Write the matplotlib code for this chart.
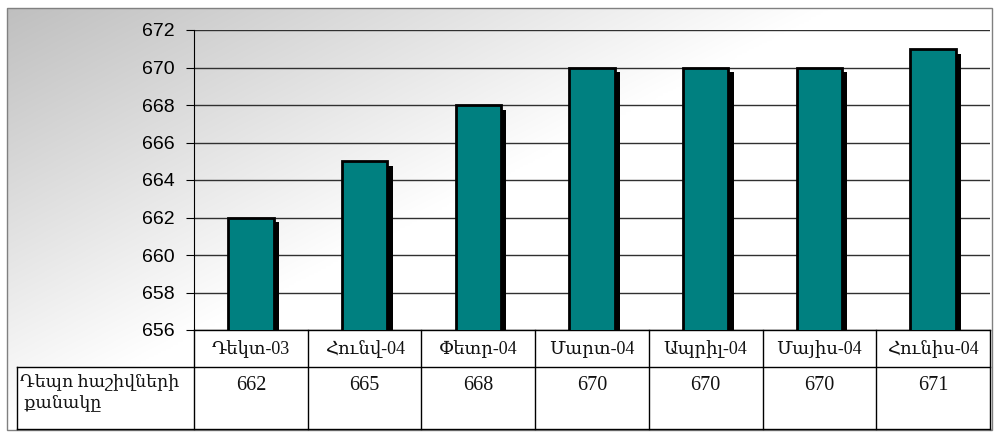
import matplotlib
matplotlib.use('Agg')
import matplotlib.pyplot as plt
import matplotlib.patheffects as pe
from matplotlib.patches import Rectangle
import numpy as np

# data
months = ['Դեկտ-03', 'Հունվ-04', 'Փետր-04', 'Մարտ-04', 'Ապրիլ-04', 'Մայիս-04', 'Հունիս-04']
accounts = [662, 665, 668, 670, 670, 670, 671]
row_label = 'Դեպո հաշիվների\n քանակը'
yticks = list(range(656, 673, 2))

W, H = 995, 433
fig = plt.figure(figsize=(W / 100, H / 100), dpi=100)

# background layer in pixel coordinates (gradient, frame, table)
bg = fig.add_axes([0, 0, 1, 1], zorder=0)
bg.set_xlim(0, W)
bg.set_ylim(H, 0)
bg.axis('off')
xx, yy = np.meshgrid(np.linspace(0, 1, 400), np.linspace(0, 1, 200))
g = 0.75 + 0.25 * np.clip(xx * 1.2 + yy * 1.0, 0, 1)
bg.imshow(np.dstack([g, g, g]), extent=(7, 992, 430, 8), aspect='auto',
          interpolation='bilinear', zorder=0)
bg.add_patch(Rectangle((7, 8), 985, 422, fill=False, edgecolor='#808080', lw=1, zorder=1))

# main chart
ax_l, ax_r, ax_t, ax_b = 194, 990, 30, 330
ax = fig.add_axes([ax_l / W, 1 - ax_b / H, (ax_r - ax_l) / W, (ax_b - ax_t) / H], zorder=2)
ax.patch.set_alpha(0)
x = np.arange(len(months))
ax.bar(x, accounts, width=0.4, color='#008080', edgecolor='black', linewidth=2,
       zorder=3,
       path_effects=[pe.SimplePatchShadow(offset=(3.8, -3.5), shadow_rgbFace='black', alpha=1),
                     pe.Normal()])
ax.set_xlim(-0.5, len(months) - 0.5)
ax.set_ylim(656, 672)
ax.set_yticks(yticks)
ax.set_xticks([])
ax.yaxis.grid(True, color='#303030', linewidth=1)
ax.set_axisbelow(True)
for s in ['top', 'right', 'bottom']:
    ax.spines[s].set_visible(False)
ax.spines['left'].set_color('black')
ax.tick_params(axis='y', length=6, pad=8, labelsize=14, colors='black')
for lab in ax.get_yticklabels():
    lab.set_fontfamily('Liberation Sans')

# data table under the chart
tfont = ['Liberation Serif', 'DejaVu Serif']
cw = (ax_r - ax_l) / len(months)
r0, r1, r2 = ax_b, 367, 429
bg.add_patch(Rectangle((ax_l, r0), ax_r - ax_l, r2 - r0, facecolor='white', edgecolor='none', zorder=1))
bg.add_patch(Rectangle((17, r1), ax_l - 17, r2 - r1, facecolor='white', edgecolor='none', zorder=1))
lk = dict(color='black', lw=1, zorder=2)
bg.plot([ax_l, ax_r], [r0, r0], **lk)
bg.plot([17, ax_r], [r1, r1], **lk)
bg.plot([17, ax_r], [r2, r2], **lk)
bg.plot([17, 17], [r1, r2], **lk)
for i in range(len(months) + 1):
    bg.plot([ax_l + i * cw] * 2, [r0, r2], **lk)
for i, (m, v) in enumerate(zip(months, accounts)):
    cx = ax_l + (i + 0.5) * cw
    bg.text(cx, 349, m, ha='center', va='center', fontsize=13, family=tfont, color='#111111', zorder=3)
    bg.text(cx, 385, str(v), ha='center', va='center', fontsize=14.5, family=tfont, color='#111111', zorder=3)
bg.text(20, 373, row_label, ha='left', va='top', fontsize=12.5, family=tfont, color='#111111',
        linespacing=1.3, zorder=3)

fig.savefig('out.png', dpi=100)
